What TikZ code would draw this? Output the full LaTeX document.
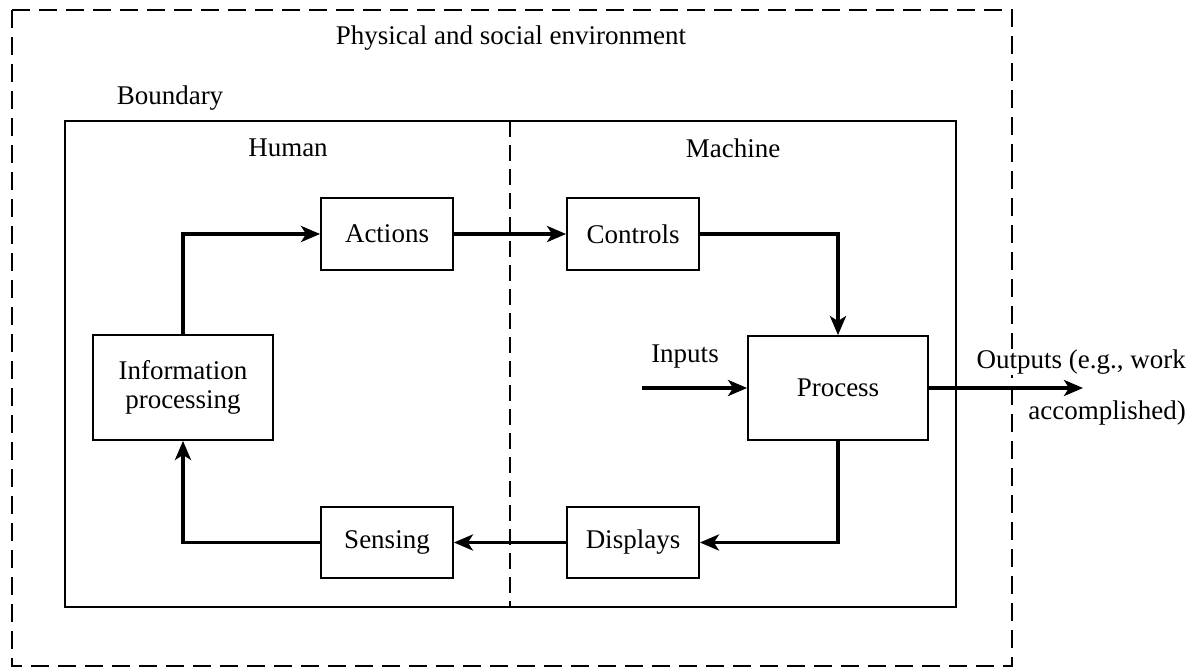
\documentclass[tikz,border=0pt]{standalone}
\usepackage{fontspec}
\setmainfont{Liberation Serif}
\usetikzlibrary{arrows.meta}
\begin{document}
\begin{tikzpicture}[x=1pt,y=-1pt,
  every node/.style={font=\fontsize{27}{31}\selectfont},
  blockbox/.style={draw, line width=1.8pt, inner sep=0pt, align=center},
  flow/.style={line width=3.6pt, -{Stealth[length=19pt,width=16pt,inset=5pt]}},
  envline/.style={line width=1.5pt, dash pattern=on 18pt off 9pt},
  splitline/.style={line width=1.2pt, dash pattern=on 16pt off 8pt},
  outlabel/.style={anchor=east, fill=white, inner sep=1pt}]
\useasboundingbox (0,0) rectangle (1200,669);

% physical and social environment
\draw[envline] (12,10) rectangle (1012,666);
\node (env) at (511,38) {Physical and social environment};

% human-machine boundary
\draw[line width=1.8pt] (65,121) rectangle (956,607);
\draw[splitline] (510,121) -- (510,607);
\node (bnd) at (170,98) {Boundary};
\node (hum) at (288,148) {Human};
\node (mac) at (733,148) {Machine};

% blocks
\node[blockbox, minimum width=132pt, minimum height=72pt] (act) at (387,234) {Actions};
\node[blockbox, minimum width=132pt, minimum height=72pt] (ctl) at (633,234) {Controls};
\node[blockbox, minimum width=180pt, minimum height=105pt] (inf) at (183,387.5) {Information\\[-2pt]processing};
\node[blockbox, minimum width=180pt, minimum height=104pt] (prc) at (838,388) {Process};
\node[blockbox, minimum width=132pt, minimum height=71pt] (sen) at (387,542.5) {Sensing};
\node[blockbox, minimum width=132pt, minimum height=71pt] (dsp) at (633,542.5) {Displays};

% free ends and their labels
\coordinate (inp) at (642,388);
\coordinate (outp) at (1083,388);
\node (inl) at (685,357) {Inputs};
\node[outlabel] (outl1) at (1187,362) {Outputs (e.g., work};
\node[outlabel] (outl2) at (1187,413) {accomplished)};

% loop
\draw[flow] (inf.north) |- (act.west);
\draw[flow] (act.east) -- (ctl.west);
\draw[flow] (ctl.east) -| (prc.north);
\draw[flow] (prc.south) |- (dsp.east);
\draw[flow] (dsp.west) -- (sen.east);
\draw[flow] (sen.west) -| (inf.south);
\draw[flow] (inp) -- (prc.west);
\draw[flow] (prc.east) -- (outp);
\end{tikzpicture}
\end{document}
